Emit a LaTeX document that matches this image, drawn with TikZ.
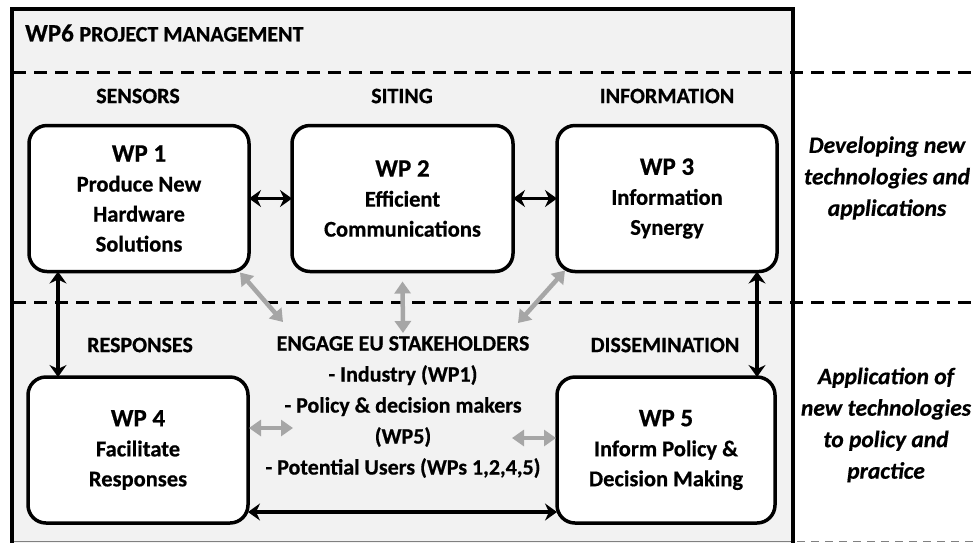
\documentclass[tikz,border=0pt]{standalone}
\usepackage{fontspec}
\setmainfont{Carlito}[BoldFeatures={FakeBold=0.6},BoldItalicFeatures={FakeBold=0.6}]
\usetikzlibrary{arrows.meta,calc}
\definecolor{panel}{HTML}{F2F2F2}
\definecolor{lgray}{HTML}{A6A6A6}
\begin{document}
\begin{tikzpicture}[x=1pt,y=-1pt,
  wpbox/.style={draw=black,line width=3.5pt,fill=white,rounded corners=18pt,
    minimum width=220pt,minimum height=146pt,inner sep=0pt,outer sep=0pt,align=center,
    font=\fontsize{22.5}{30}\selectfont\bfseries},
  heading/.style={font=\fontsize{22}{26}\selectfont\bfseries,inner sep=0pt},
  sidetext/.style={font=\fontsize{23.5}{31.5}\selectfont\bfseries\itshape,align=center,inner sep=0pt},
  midtext/.style={font=\fontsize{22}{31}\selectfont\bfseries,align=center,inner sep=0pt},
  sep/.style={line width=3pt,dash pattern=on 13pt off 8pt},
  blk/.style={line width=3.5pt,{Stealth[length=12pt,width=17pt,inset=4pt]}-{Stealth[length=12pt,width=17pt,inset=4pt]}},
  gry/.style={draw=lgray,line width=4.5pt,{Triangle[length=12pt,width=16pt]}-{Triangle[length=12pt,width=16pt]}}
]
\useasboundingbox (0,0) rectangle (973,542);
\clip (0,0) rectangle (973,542);
% panel
\fill[panel] (12,9) rectangle (793,560);
% separators
\draw[sep] (13,72) -- (973,72);
\draw[sep] (13,302) -- (973,302);
% bottom thin lines
\draw[gray,line width=1pt] (12,541) -- (793,541);
\draw[gray,line width=1pt,dash pattern=on 8pt off 6pt] (797,541) -- (973,541);
% frame
\draw[line width=3.5pt] (12,560) -- (12,9) -- (793,9) -- (793,560);

% title
\node[anchor=west,inner sep=0pt] (title) at (25,33)
  {\fontsize{25}{30}\selectfont\bfseries WP6 \fontsize{22}{26}\selectfont PROJECT MANAGEMENT};

% headings
\node[heading] (hsens) at (138,96) {SENSORS};
\node[heading] (hsit) at (402,96) {SITING};
\node[heading] (hinf) at (667,96) {INFORMATION};
\node[heading] (hresp) at (140,345) {RESPONSES};
\node[heading] (hdiss) at (665,345) {DISSEMINATION};

% boxes
\node[wpbox] (wp1) at (139,198.5) {{\fontsize{25}{30}\selectfont WP 1}\\Produce New\\Hardware\\Solutions};
\node[wpbox,minimum width=221pt] (wp2) at (402.5,198.5) {{\fontsize{25}{30}\selectfont WP 2}\\Efficient\\Communications};
\node[wpbox] (wp3) at (667,198.5) {{\fontsize{25}{30}\selectfont WP 3}\\Information\\Synergy};
\node[wpbox] (wp4) at (138,450) {{\fontsize{25}{30}\selectfont WP 4}\\Facilitate\\Responses};
\node[wpbox,minimum width=218pt] (wp5) at (666,450) {{\fontsize{25}{30}\selectfont WP 5}\\Inform Policy \&\\Decision Making};

% middle text
\node[midtext] (engage) at (403,407) {ENGAGE EU STAKEHOLDERS\\- Industry (WP1)\\- Policy \& decision makers\\(WP5)\\- Potential Users (WPs 1,2,4,5)};

% side texts
\node[sidetext] (dev) at (887,178) {Developing new\\technologies and\\applications};
\node[sidetext] (app) at (886,425) {Application of\\new technologies\\to policy and\\practice};

% black arrows
\draw[blk] (wp1.east) -- (wp2.west);
\draw[blk] (wp2.east) -- (wp3.west);
\draw[blk] ([xshift=-81pt]wp1.south) -- ([xshift=-80pt]wp4.north);
\draw[blk] ([xshift=90pt]wp3.south) -- ([xshift=91pt]wp5.north);
\draw[blk] ([yshift=-62pt]wp4.east) -- ([yshift=-62pt]wp5.west);

% gray arrows
\coordinate (e1) at (283,322);
\coordinate (e2) at (403,333);
\coordinate (e3) at (518,323);
\coordinate (e4) at (293,428);
\coordinate (e5) at (512,438);
\draw[gry] ($(wp1.south east)+(-9,1)$) -- (e1);
\draw[gry] ($(wp2.south)+(0,10)$) -- (e2);
\draw[gry] ($(wp3.south west)+(8,-1)$) -- (e3);
\draw[gry] ($(wp4.east)+(1,-22)$) -- (e4);
\draw[gry] (e5) -- ($(wp5.west)+(-1,-12)$);
\end{tikzpicture}
\end{document}
